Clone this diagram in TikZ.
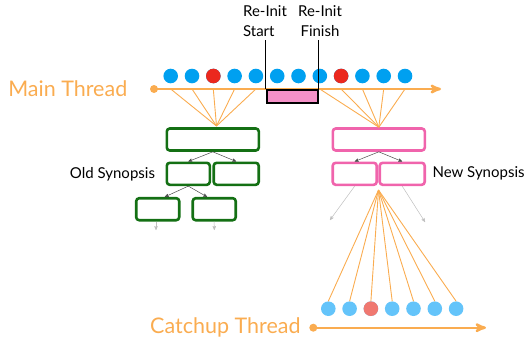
\documentclass[tikz,border=0pt]{standalone}
\usepackage{fontspec}
\setmainfont{Lato}
\usetikzlibrary{arrows,positioning}

\definecolor{threadorange}{RGB}{250,172,80}
\definecolor{dotblue}{RGB}{0,160,240}
\definecolor{dotred}{RGB}{235,40,30}
\definecolor{lightblue}{RGB}{100,196,250}
\definecolor{salmon}{RGB}{240,120,112}
\definecolor{oldgreen}{RGB}{20,112,20}
\definecolor{newpink}{RGB}{240,100,172}
\definecolor{reinitpink}{RGB}{245,145,200}

\begin{document}
\begin{tikzpicture}[
    x = 1pt,
    y = -1pt,
    >=stealth',
    dot/.style = {
      circle,
      inner sep = 0pt,
      minimum size = 14.6pt,
      fill = dotblue
    },
    cdot/.style = {
      circle,
      inner sep = 0pt,
      minimum size = 14.6pt,
      fill = lightblue
    },
    thread/.style = {
      line width = 2.4pt,
      draw = threadorange,
      ->
    },
    start/.style = {
      circle,
      inner sep = 0pt,
      minimum size = 8pt,
      fill = threadorange
    },
    fan/.style = {
      line width = 0.9pt,
      draw = threadorange
    },
    synbox/.style = {
      draw,
      line width = 2.6pt,
      rounded corners = 3pt,
      inner sep = 0pt,
      minimum height = 22pt
    },
    oldbox/.style = {synbox, draw = oldgreen},
    newbox/.style = {synbox, draw = newpink},
    child/.style = {
      ->,
      line width = 0.5pt,
      draw = black!70
    },
    faded/.style = {
      ->,
      line width = 0.5pt,
      draw = black!25
    },
    tlabel/.style = {
      text = threadorange,
      font = \fontsize{21.5}{25}\selectfont
    },
    slabel/.style = {
      font = \fontsize{15}{20}\selectfont
    }
  ]
  \useasboundingbox (0,0) rectangle (532,346);

  % main thread
  \node[start] (mStart) at (154,89) {};
  \coordinate (mEnd) at (441,89);
  \draw[thread] (mStart.center) -- (mEnd);
  \node[tlabel, left = 19pt of mStart] (mLabel) {Main Thread};

  \foreach \i in {1,...,12}
    \node[dot] (m\i) at (149.4+21.3*\i,76) {};
  \node[dot, fill = dotred] at (m3) {};
  \node[dot, fill = dotred] at (m9) {};

  % re-init window
  \node[draw, line width = 2pt, fill = reinitpink, minimum width = 51pt,
        minimum height = 13.3pt, inner sep = 0pt] (reinit) at (292.2,96.7) {};
  \node[slabel, align = left] (rStart) at (265,21) {Re-Init\\Start};
  \node[slabel, align = center] (rFinish) at (320,21) {Re-Init\\Finish};
  \draw[line width = 1.4pt] (rStart.south -| reinit.north west) -- (reinit.north west);
  \draw[line width = 1.4pt] (rFinish.south -| reinit.north east) -- (reinit.north east);

  % old synopsis
  \node[oldbox, minimum width = 92pt] (oTop) at (212.8,139.5) {};
  \node[oldbox, minimum width = 43pt] (oL) at (188.3,173.8) {};
  \node[oldbox, minimum width = 45pt] (oR) at (236.2,173.8) {};
  \node[oldbox, minimum width = 43pt] (oLL) at (157.7,209.2) {};
  \node[oldbox, minimum width = 43pt] (oLR) at (214.2,209.2) {};
  \node[slabel, left = 7pt of oL] (oLabel) {Old Synopsis};

  \coordinate (oApex) at (216.5,126);
  \foreach \i in {1,...,5}
    \draw[fan] (m\i |- mStart) -- (oApex);

  \draw[child] (oTop.south) -- (oL.north);
  \draw[child] (oTop.south) -- (oR.north);
  \draw[child] (oL.south) -- (oLL.60);
  \draw[child] (oL.south) -- (oLR.120);
  \coordinate (oLLEnd) at (156,230);
  \coordinate (oLREnd) at (214.3,230);
  \draw[faded] (oLL.south -| oLLEnd) -- (oLLEnd);
  \draw[faded] (oLR.south) -- (oLREnd);

  % new synopsis
  \node[newbox, minimum width = 92pt] (nTop) at (378.8,139.5) {};
  \node[newbox, minimum width = 44pt] (nL) at (354.7,173.8) {};
  \node[newbox, minimum width = 45pt] (nR) at (402.2,173.8) {};
  \node[slabel, right = 3pt of nR] (nLabel) {New Synopsis};

  \foreach \i in {8,...,12}
    \draw[fan] (m\i |- mStart) -- (nTop.north);

  \draw[child] (nTop.south) -- (nL.north);
  \draw[child] (nTop.south) -- (nR.north);
  \coordinate (nLEnd) at (330,220);
  \coordinate (nREnd) at (425,222);
  \draw[faded] (nL.south) -- (nLEnd);
  \draw[faded] (nR.south) -- (nREnd);

  % catchup thread
  \node[start] (cStart) at (313.3,327.7) {};
  \coordinate (cEnd) at (486,327.7);
  \draw[thread] (cStart.center) -- (cEnd);
  \node[tlabel, left = 5pt of cStart] (cLabel) {Catchup Thread};

  \foreach \i in {1,...,7}
    \node[cdot] (c\i) at (307+21.3*\i,308.7) {};
  \node[cdot, fill = salmon] at (c3) {};

  \coordinate (cApex) at (378.5,190);
  \foreach \i in {1,...,7}
    \draw[fan] (cApex) -- (c\i.north);
\end{tikzpicture}
\end{document}
